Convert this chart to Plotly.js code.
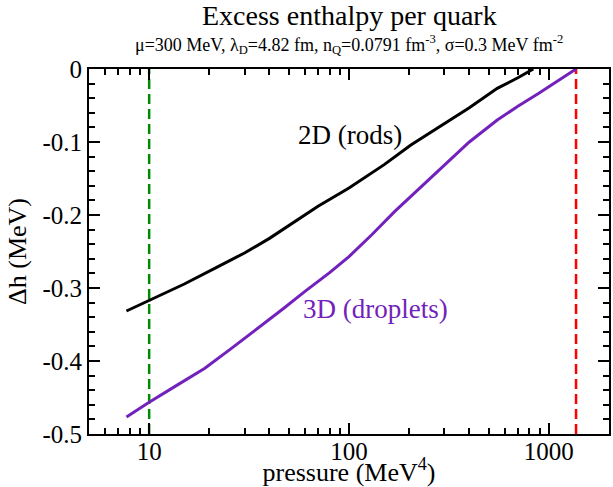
<!DOCTYPE html>
<html><head><meta charset="utf-8">
<script src="https://cdn.plot.ly/plotly-3.0.1.min.js"></script>
<style>html,body{margin:0;padding:0;background:#fff}</style>
</head><body><div id="chart" style="width:613px;height:487px"></div>
<script>
// Data
const rodsP = [7.7, 10, 15, 22, 30, 40, 55, 70, 100, 150, 204, 300, 400, 552, 700, 836];
const rodsH = [-0.3315, -0.317, -0.2945, -0.271, -0.252, -0.232, -0.207, -0.188, -0.163, -0.131, -0.104, -0.075, -0.053, -0.0265, -0.012, 0];
const dropP = [7.7, 10, 14, 19, 26, 35.1, 47, 60, 80, 100, 130, 169, 230, 300, 400, 552, 700, 891, 1100, 1368];
const dropH = [-0.4767, -0.4566, -0.432, -0.410, -0.382, -0.355, -0.328, -0.305, -0.279, -0.257, -0.227, -0.1954, -0.161, -0.1315, -0.100, -0.0699, -0.051, -0.0333, -0.017, 0];
const greenP = [10, 10];
const redP = [1368, 1368];
const vlineH = [-0.5, 0];
const xTickVals = [10, 100, 1000];
const xTickText = ['10', '100', '1000'];
const xMinorVals = [6,7,8,9,20,30,40,50,60,70,80,90,200,300,400,500,600,700,800,900];
const yTickVals = [0, -0.1, -0.2, -0.3, -0.4, -0.5];
const yTickText = ['0', '-0.1', '-0.2', '-0.3', '-0.4', '-0.5'];
const rodsLabel = {text: '2D (rods)', p: 101.7, h: -0.09};
const dropLabel = {text: '3D (droplets)', p: 135.6, h: -0.329};

const FONT = 'Liberation Serif, Times New Roman, serif';
const INDIGO = 'rgb(114,33,188)';

const traces = [
  {x: greenP, y: vlineH, mode: 'lines', line: {color: 'rgb(0,139,0)', width: 2.5, dash: '10px,5px'}, hoverinfo: 'skip'},
  {x: redP, y: vlineH, mode: 'lines', line: {color: 'rgb(255,0,0)', width: 2.5, dash: '10px,5px'}, hoverinfo: 'skip'},
  {x: rodsP, y: rodsH, mode: 'lines', line: {color: 'black', width: 3}, name: '2D (rods)'},
  {x: dropP, y: dropH, mode: 'lines', line: {color: INDIGO, width: 3}, name: '3D (droplets)'}
];

const layout = {
  width: 613, height: 487,
  margin: {l: 89, r: 4, t: 69, b: 53},
  paper_bgcolor: 'white', plot_bgcolor: 'white',
  showlegend: false,
  font: {family: FONT, color: 'black', size: 25},
  xaxis: {
    type: 'log', range: [Math.log10(5), Math.log10(2000)],
    tickmode: 'array', tickvals: xTickVals, ticktext: xTickText,
    ticks: 'inside', ticklen: 11, tickwidth: 2, tickcolor: 'black',
    ticklabelstandoff: -6,
    showline: true, linewidth: 2, linecolor: 'black', mirror: 'ticks',
    showgrid: false, zeroline: false,
    tickfont: {family: FONT, size: 25},
    minor: {tickmode: 'array', tickvals: xMinorVals, ticks: 'inside', ticklen: 6, tickwidth: 2, tickcolor: 'black', showgrid: false},
    title: {text: 'pressure (MeV<sup>4</sup>)', font: {family: FONT, size: 26}, standoff: 4}
  },
  yaxis: {
    range: [-0.5, 0],
    tickmode: 'array', tickvals: yTickVals, ticktext: yTickText,
    ticks: 'inside', ticklen: 11, tickwidth: 2, tickcolor: 'black',
    showline: true, linewidth: 2, linecolor: 'black', mirror: 'ticks',
    showgrid: false, zeroline: false,
    tickfont: {family: FONT, size: 25},
    minor: {dtick: 0.02, ticks: 'inside', ticklen: 6, tickwidth: 2, tickcolor: 'black', showgrid: false},
    title: {text: 'Δh (MeV)', font: {family: FONT, size: 26}, standoff: 8}
  },
  annotations: [
    {text: 'Excess enthalpy per quark', xref: 'paper', yref: 'paper', x: 0.5, y: 1.146, xanchor: 'center', yanchor: 'middle', showarrow: false, font: {family: FONT, size: 28}},
    {text: 'μ=300 MeV, λ<sub>D</sub>=4.82 fm, n<sub>Q</sub>=0.0791 fm<sup>-3</sup>, σ=0.3 MeV fm<sup>-2</sup>', xref: 'paper', yref: 'paper', x: 0.5, y: 1.068, xanchor: 'center', yanchor: 'middle', showarrow: false, font: {family: FONT, size: 18}},
    {text: rodsLabel.text, xref: 'x', yref: 'y', x: Math.log10(rodsLabel.p), y: rodsLabel.h, showarrow: false, font: {family: FONT, size: 27, color: 'black'}},
    {text: dropLabel.text, xref: 'x', yref: 'y', x: Math.log10(dropLabel.p), y: dropLabel.h, showarrow: false, font: {family: FONT, size: 27, color: INDIGO}}
  ]
};

Plotly.newPlot('chart', traces, layout, {staticPlot: true, displayModeBar: false});
</script>
</body></html>
